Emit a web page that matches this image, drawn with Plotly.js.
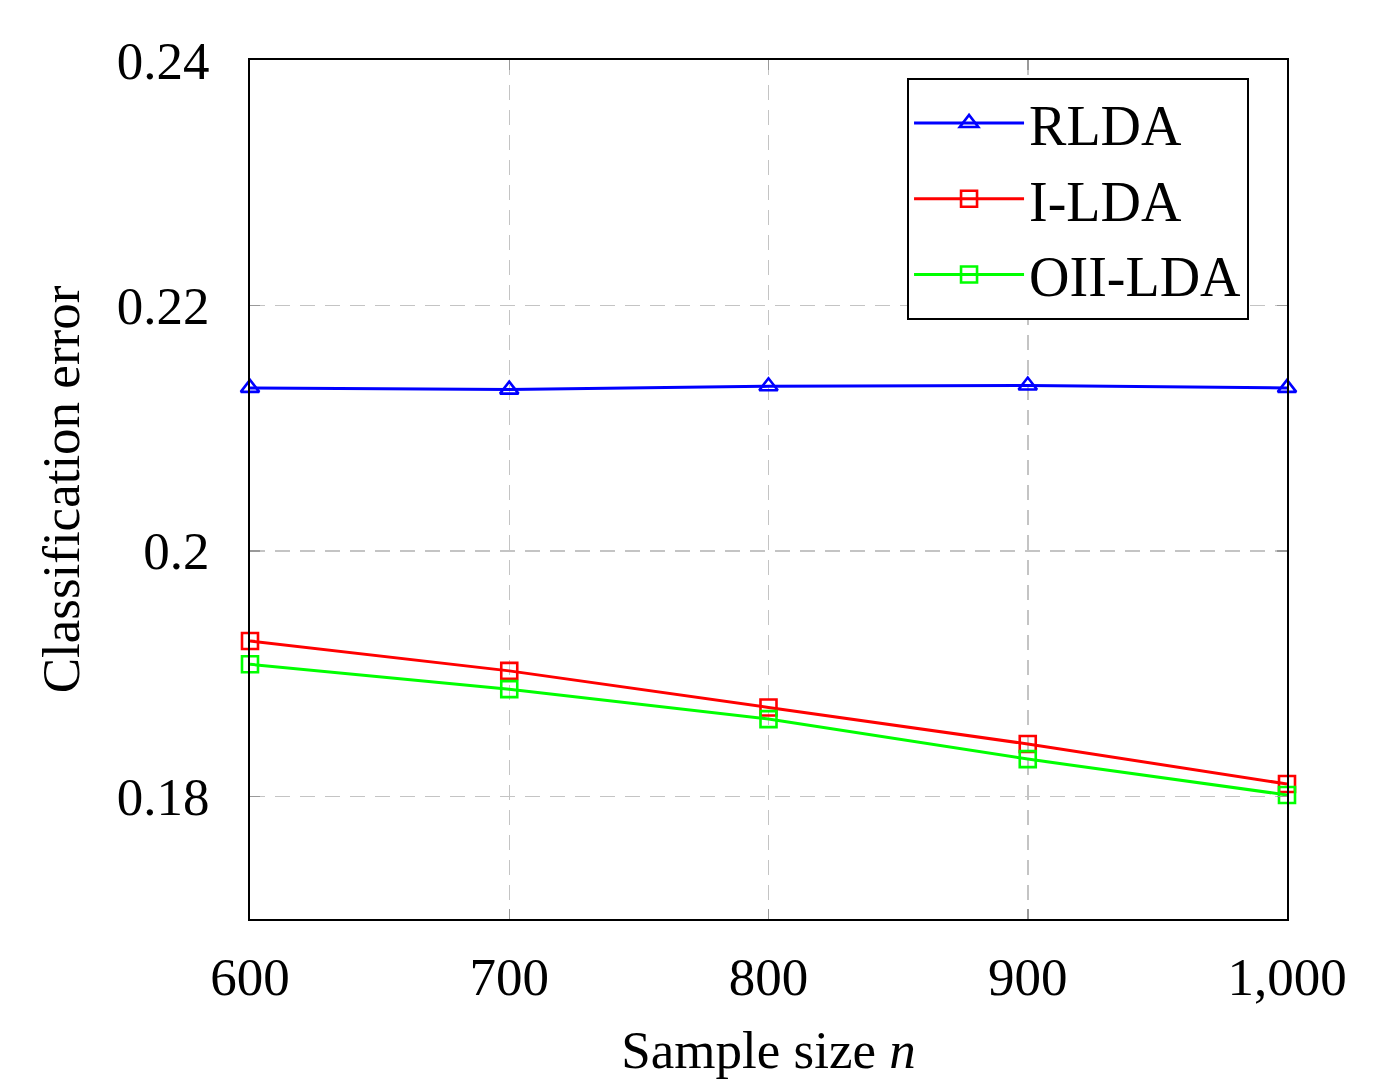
<!DOCTYPE html>
<html>
<head>
<meta charset="utf-8">
<script src="https://cdn.plot.ly/plotly-3.0.1.min.js"></script>
<style>html,body{margin:0;padding:0;background:#fff;}</style>
</head>
<body>
<div id="chart" style="width:1381px;height:1079px;"></div>
<script>
const sampleSizes = [600, 700, 800, 900, 1000];
const xTickLabels = ["600", "700", "800", "900", "1,000"];
const yTickVals = [0.18, 0.2, 0.22, 0.24];
const yTickLabels = ["0.18", "0.2", "0.22", "0.24"];
const rlda = [0.21328, 0.21314, 0.21341, 0.21347, 0.21328];
const ilda = [0.19266, 0.19022, 0.18724, 0.18426, 0.18100];
const oiilda = [0.19076, 0.18873, 0.18629, 0.18303, 0.18011];

const FONT = "Liberation Serif, Times New Roman, serif";

function trace(name, y, color, symbol) {
  return {
    x: sampleSizes, y: y, name: name, type: "scatter", mode: "lines+markers",
    line: {color: color, width: 3},
    marker: {symbol: symbol, size: 16, color: color, line: {color: color, width: 2.6}},
    cliponaxis: false
  };
}

const data = [
  trace("RLDA", rlda, "#0000ff", "triangle-up-open"),
  trace("I-LDA", ilda, "#ff0000", "square-open"),
  trace("OII-LDA", oiilda, "#00ff00", "square-open")
];

const layout = {
  width: 1381, height: 1079, autosize: false,
  margin: {l: 250, r: 94, t: 60, b: 160},
  paper_bgcolor: "#fff", plot_bgcolor: "#fff",
  font: {family: FONT, size: 53, color: "#000"},
  showlegend: true,
  legend: {
    x: 0.6336, y: 0.979, xanchor: "left", yanchor: "top",
    bordercolor: "#000", borderwidth: 2, bgcolor: "#fff",
    font: {family: FONT, size: 56, color: "#000"},
    itemwidth: 110
  },
  xaxis: {
    range: [600, 1000],
    tickvals: sampleSizes, ticktext: xTickLabels,
    showgrid: true, gridcolor: "#c4c4c4", gridwidth: 1.5, griddash: "15px,10px",
    zeroline: false,
    showline: true, linecolor: "#000", linewidth: 2, mirror: "ticks",
    ticks: "inside", ticklen: 10, tickcolor: "#999", tickwidth: 1.5,
    ticklabelstandoff: 10,
    tickfont: {family: FONT, size: 53},
    title: {text: "Sample size <i>n</i>", font: {family: FONT, size: 53}, standoff: 64}
  },
  yaxis: {
    range: [0.17, 0.24],
    tickvals: yTickVals, ticktext: yTickLabels,
    showgrid: true, gridcolor: "#c4c4c4", gridwidth: 1.5, griddash: "15px,10px",
    zeroline: false,
    showline: true, linecolor: "#000", linewidth: 2, mirror: "ticks",
    ticks: "inside", ticklen: 10, tickcolor: "#999", tickwidth: 1.5,
    ticklabelstandoff: 28,
    tickfont: {family: FONT, size: 53},
    title: {text: "Classification error", font: {family: FONT, size: 53}, standoff: 20}
  }
};

Plotly.newPlot("chart", data, layout, {displayModeBar: false, staticPlot: true});
</script>
</body>
</html>
